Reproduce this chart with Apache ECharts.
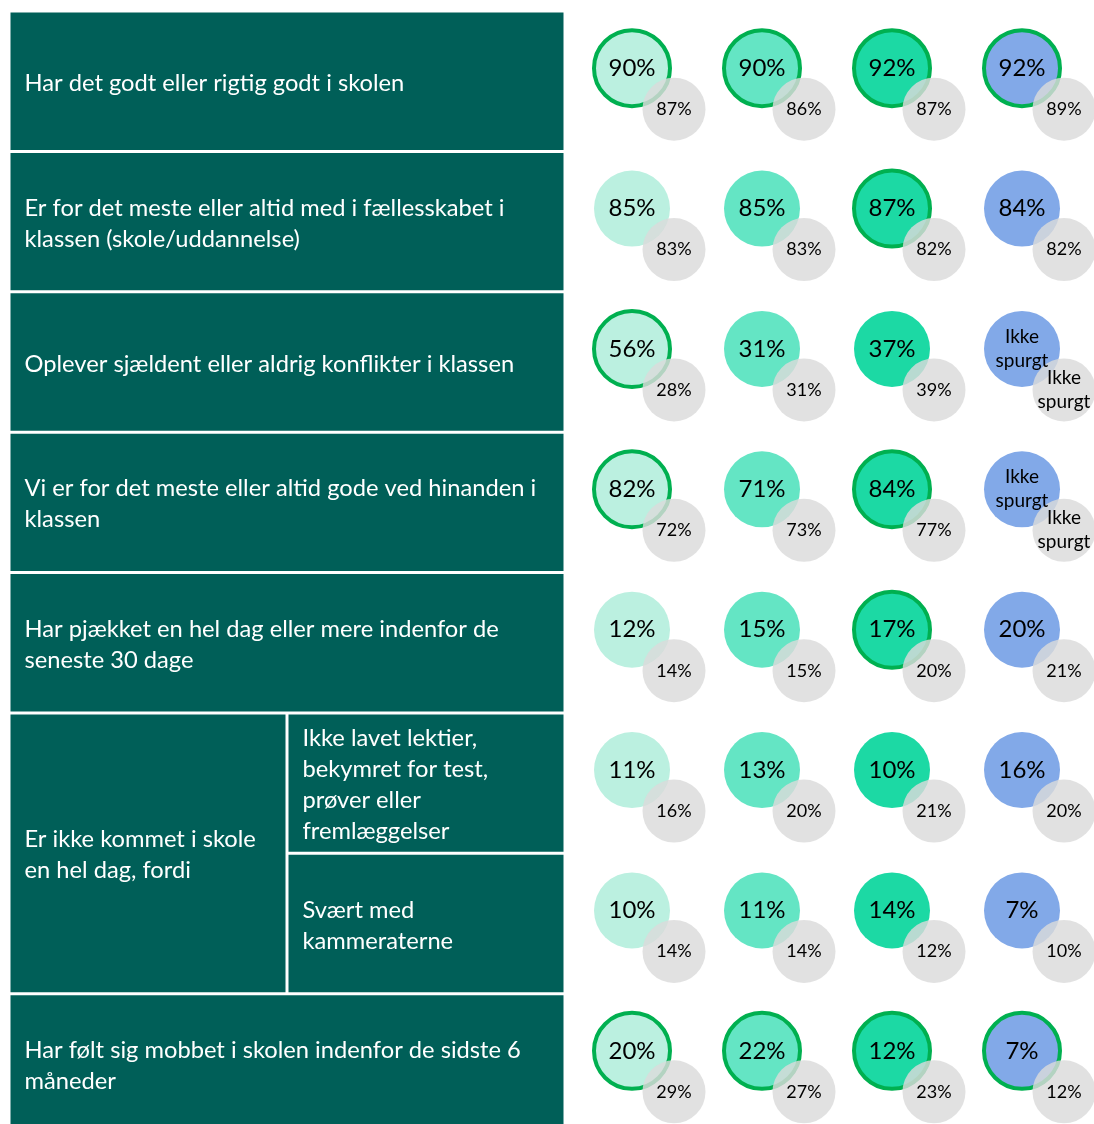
<!DOCTYPE html>
<html>
<head>
<meta charset="utf-8">
<script src="https://cdn.jsdelivr.net/npm/echarts@6/dist/echarts.min.js"></script>
<style>
  html, body { margin: 0; padding: 0; background: #fff; }
  #chart { width: 1094px; height: 1124px; }
</style>
</head>
<body>
<div id="chart"></div>
<script>
// row texts (rows 5 and 6 are sub rows of the group label)
const rowLabels = [
  'Har det godt eller rigtig godt i skolen',
  'Er for det meste eller altid med i fællesskabet i\nklassen (skole/uddannelse)',
  'Oplever sjældent eller aldrig konflikter i klassen',
  'Vi er for det meste eller altid gode ved hinanden i\nklassen',
  'Har pjækket en hel dag eller mere indenfor de\nseneste 30 dage',
  'Ikke lavet lektier,\nbekymret for test,\nprøver eller\nfremlæggelser',
  'Svært med\nkammeraterne',
  'Har følt sig mobbet i skolen indenfor de sidste 6\nmåneder'
]
const groupLabel = 'Er ikke kommet i skole\nen hel dag, fordi'
const groupRows = [5, 6]

// one array per column, null = "Ikke spurgt"
const col1 = [90, 85, 56, 82, 12, 11, 10, 20]
const col2 = [90, 85, 31, 71, 15, 13, 11, 22]
const col3 = [92, 87, 37, 84, 17, 10, 14, 12]
const col4 = [92, 84, null, null, 20, 16, 7, 7]

// comparison values (grey circles)
const cmp1 = [87, 83, 28, 72, 14, 16, 14, 29]
const cmp2 = [86, 83, 31, 73, 15, 20, 14, 27]
const cmp3 = [87, 82, 39, 77, 20, 21, 12, 23]
const cmp4 = [89, 82, null, null, 21, 20, 10, 12]

// significant difference marker (green ring)
const sig1 = [1, 0, 1, 1, 0, 0, 0, 1]
const sig2 = [1, 0, 0, 0, 0, 0, 0, 1]
const sig3 = [1, 1, 0, 1, 1, 0, 0, 1]
const sig4 = [1, 0, 0, 0, 0, 0, 0, 1]

const colColors = ['#BBF0E0', '#64E5C4', '#1CD9A4', '#82A9E8']
const BOX = '#005F58'
const FONT = 'Lato, "Open Sans", sans-serif'

const cols = [col1, col2, col3, col4]
const cmps = [cmp1, cmp2, cmp3, cmp4]
const sigs = [sig1, sig2, sig3, sig4]

const chart = echarts.init(document.getElementById('chart'))

const boxData = rowLabels.map((t, i) =>
  [groupRows.includes(i) ? 0.5 : 0, 1, i, i])
boxData.push([0, 0.5, groupRows[0], groupRows[groupRows.length - 1]])
const boxTexts = rowLabels.concat([groupLabel])

const bigData = []
const greyData = []
cols.forEach((col, c) => {
  col.forEach((v, r) => {
    bigData.push({
      value: [c, r, v],
      itemStyle: {
        color: colColors[c],
        borderColor: sigs[c][r] ? '#00B050' : 'transparent',
        borderWidth: sigs[c][r] ? 4 : 0
      },
      label: v == null ? { fontSize: 19, lineHeight: 24 } : {}
    })
    const g = cmps[c][r]
    greyData.push({
      value: [c, r, g],
      label: g == null ? { fontSize: 19, lineHeight: 24 } : {}
    })
  })
})

const pctLabel = p => p.value[2] == null ? 'Ikke\nspurgt' : p.value[2] + '%'

const hiddenAxis = { show: false }

const option = {
  animation: false,
  grid: [
    { left: 9, top: 11, width: 556, height: 1109 },
    { left: 567, top: 12, width: 520, height: 1095 }
  ],
  xAxis: [
    { type: 'value', gridIndex: 0, min: 0, max: 1, ...hiddenAxis },
    { type: 'value', gridIndex: 1, min: -0.5, max: 3.5, ...hiddenAxis }
  ],
  yAxis: [
    { type: 'value', gridIndex: 0, min: -0.5, max: 7.4, inverse: true, ...hiddenAxis },
    { type: 'value', gridIndex: 1, min: -0.4, max: 7.4, inverse: true, ...hiddenAxis }
  ],
  series: [
    {
      type: 'custom',
      xAxisIndex: 0,
      yAxisIndex: 0,
      data: boxData,
      renderItem: (params, api) => {
        const a = api.coord([api.value(0), api.value(2) - 0.5])
        const b = api.coord([api.value(1), api.value(3) + 0.5])
        const x = a[0] + 1.5
        const y = Math.min(a[1], b[1]) + 1.5
        const w = b[0] - a[0] - 3
        const h = Math.abs(b[1] - a[1]) - 3
        return {
          type: 'group',
          children: [
            { type: 'rect', shape: { x, y, width: w, height: h }, style: { fill: BOX } },
            {
              type: 'text',
              style: {
                text: boxTexts[params.dataIndex],
                x: x + 14,
                y: y + h / 2 + 2,
                fill: '#fff',
                fontSize: 23.7,
                fontFamily: FONT,
                lineHeight: 31,
                verticalAlign: 'middle'
              }
            }
          ]
        }
      }
    },
    {
      type: 'scatter',
      xAxisIndex: 1,
      yAxisIndex: 1,
      symbolSize: 76,
      data: bigData,
      itemStyle: { opacity: 1 },
      label: {
        show: true,
        position: 'inside',
        formatter: pctLabel,
        color: '#000',
        fontSize: 24,
        fontFamily: FONT
      }
    },
    {
      type: 'scatter',
      xAxisIndex: 1,
      yAxisIndex: 1,
      symbolSize: 63,
      symbolOffset: [42, 41],
      itemStyle: { color: 'rgba(219,219,219,0.82)', opacity: 1 },
      data: greyData,
      label: {
        show: true,
        position: 'inside',
        formatter: pctLabel,
        color: '#000',
        fontSize: 18,
        fontFamily: FONT
      }
    }
  ]
}

chart.setOption(option)
window.addEventListener('resize', () => chart.resize())
</script>
</body>
</html>
